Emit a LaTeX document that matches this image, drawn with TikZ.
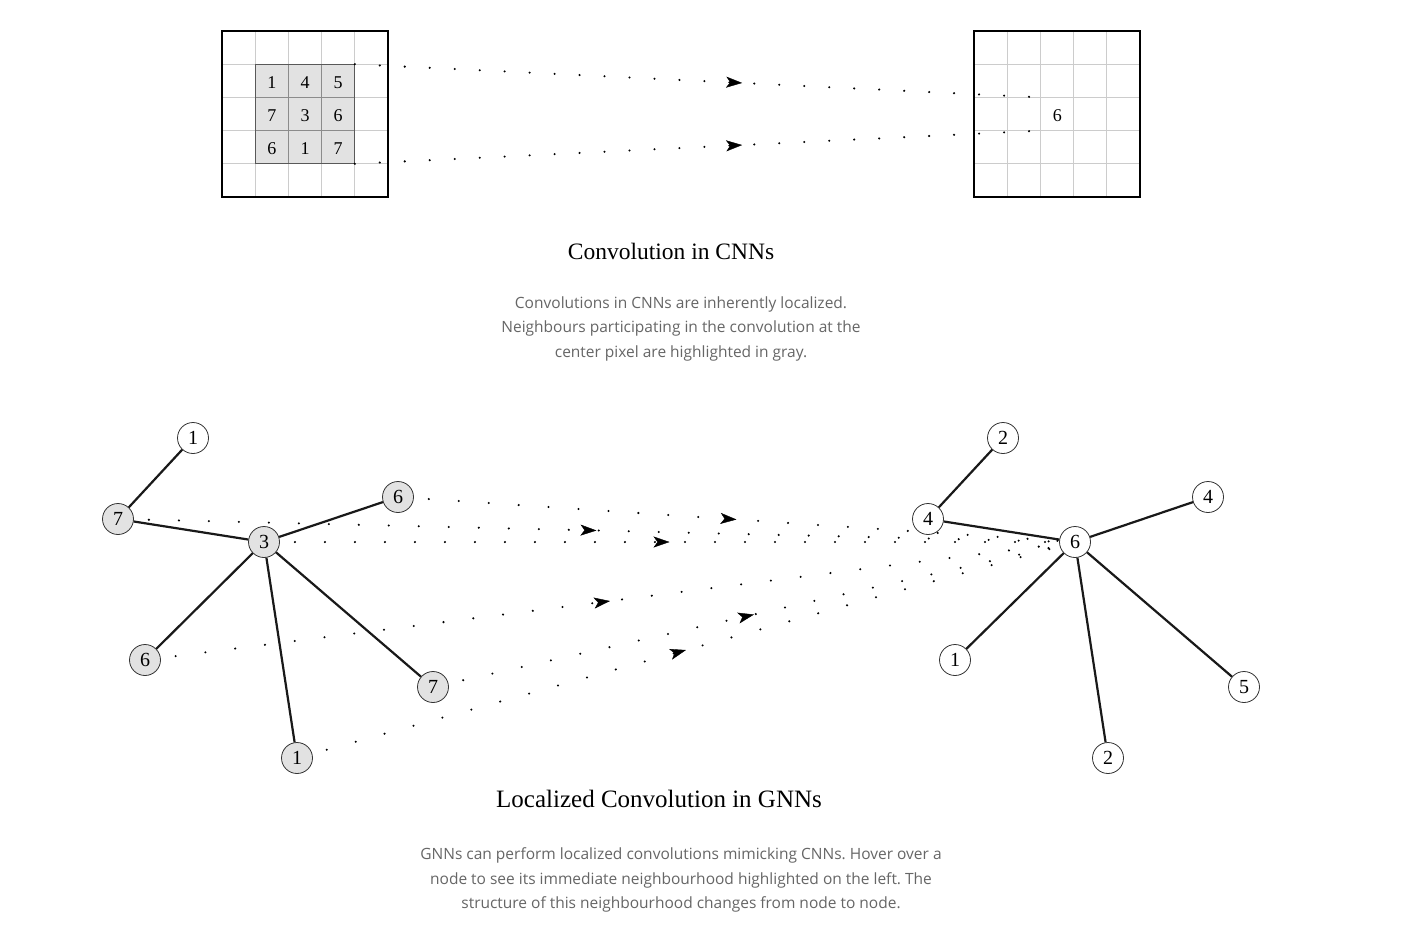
\documentclass[tikz,border=0pt]{standalone}
\usepackage{fontspec}
\setmainfont{Liberation Serif}
\newfontfamily\captionfont{Open Sans}
\usetikzlibrary{arrows.meta, positioning, decorations.markings}

\definecolor{cellgray}{HTML}{E2E2E2}
\definecolor{gridgray}{HTML}{CCCCCC}
\definecolor{textgray}{HTML}{666666}

\frenchspacing

\begin{document}
\begin{tikzpicture}[x=1pt, y=-1pt,
    vertex/.style={circle, draw=black!80, line width=0.8pt, fill=white, minimum size=31pt, inner sep=0pt, font=\fontsize{20}{20}\selectfont},
    active/.style={vertex, fill=cellgray},
    pixel/.style={inner sep=0pt, font=\fontsize{18}{18}\selectfont},
    edge/.style={draw, line width=2.2pt, black!90},
    flow/.style={draw, line width=2.3pt, line cap=round, dash pattern=on 0pt off #1, postaction={decorate}},
    flow/.default=30pt,
    mid/.style={decoration={markings, mark=at position #1 with {\arrow{Stealth[length=16pt, width=11pt, inset=4pt, line width=0.4pt]}}}},
    mid/.default=0.5,
    title/.style={anchor=base, font=\fontsize{23.5}{23.5}\selectfont},
    caption/.style={align=center, text=textgray, font=\captionfont\fontsize{15.5}{24.5}\selectfont}]

    \path[fill=white] (0,0) rectangle (1407,932);

    % Images
    \fill[cellgray] (255.2,64.2) rectangle (354.8,163.8);
    \foreach \gx in {222,974} {
        \foreach \k in {1,...,4} {
            \draw[gridgray, line width=0.8pt] (\gx+33.2*\k,31) -- (\gx+33.2*\k,197);
            \draw[gridgray, line width=0.8pt] (\gx,31+33.2*\k) -- (\gx+166,31+33.2*\k);
        }
        \draw[line width=2pt] (\gx,31) rectangle (\gx+166,197);
    }
    \foreach \k in {1,2} {
        \draw[black!45, line width=0.8pt] (255.2+33.2*\k,64.2) -- (255.2+33.2*\k,163.8);
        \draw[black!45, line width=0.8pt] (255.2,64.2+33.2*\k) -- (354.8,64.2+33.2*\k);
    }
    \draw[black!65, line width=1.3pt] (255.2,64.2) rectangle (354.8,163.8);

    \foreach \c/\r/\v in {1/1/1, 2/1/4, 3/1/5, 1/2/7, 2/2/3, 3/2/6, 1/3/6, 2/3/1, 3/3/7}
        \node[pixel] (px\c\r) at (238.6+33.2*\c,49.4+33.2*\r) {\v};
    \node[pixel] (out) at (1057.4,115.5) {6};

    \coordinate (kernelTop) at (354.8,64.2);
    \coordinate (kernelBot) at (354.8,163.8);
    \coordinate (outTop) at (1040.4,97.4);
    \coordinate (outBot) at (1040.4,130.6);

    \path[flow=25pt, mid=0.565] (kernelTop) -- (outTop);
    \path[flow=25pt, mid=0.565] (kernelBot) -- (outBot);

    % Texts
    \node[title] (cnnTitle) at (671,259) {Convolution in CNNs};
    \node[caption] (cnnText) at (681,328.5) {Convolutions in CNNs are inherently localized.\\Neighbours participating in the convolution at the\\center pixel are highlighted in gray.};
    \node[title, font=\fontsize{25}{25}\selectfont] (gnnTitle) at (659,807) {Localized Convolution in GNNs};
    \node[caption] (gnnText) at (681,880) {GNNs can perform localized convolutions mimicking CNNs. Hover over a\\node to see its immediate neighbourhood highlighted on the left. The\\structure of this neighbourhood changes from node to node.};

    % Left graph
    \node[active] (src) at (264,542) {3};
    \node[vertex] (srcFar) at (193,438) {1};
    \node[active] (srcA) at (118,519) {7};
    \node[active] (srcB) at (398,497) {6};
    \node[active] (srcC) at (145,660) {6};
    \node[active] (srcD) at (433,687) {7};
    \node[active] (srcE) at (297,758) {1};

    \path[edge] (srcFar) -- (srcA);
    \foreach \n in {srcA,srcB,srcC,srcD,srcE}
        \path[edge] (src) -- (\n);

    % Right graph
    \node[vertex] (dst) at (1075,542) {6};
    \node[vertex] (dstFar) at (1003,438) {2};
    \node[vertex] (dstA) at (928,519) {4};
    \node[vertex] (dstB) at (1208,497) {4};
    \node[vertex] (dstC) at (955,660) {1};
    \node[vertex] (dstD) at (1244,687) {5};
    \node[vertex] (dstE) at (1108,758) {2};

    \path[edge] (dstFar) -- (dstA);
    \foreach \n in {dstA,dstB,dstC,dstD,dstE}
        \path[edge] (dst) -- (\n);

    % Neighbourhood
    \foreach \n in {src,srcA,srcB,srcC,srcD,srcE}
        \path[flow, mid, dash phase=15pt] (\n) -- (dst);

\end{tikzpicture}
\end{document}
